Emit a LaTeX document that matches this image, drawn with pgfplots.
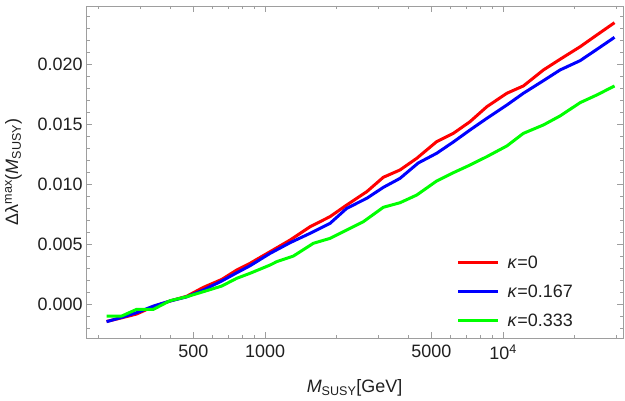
\documentclass[border=0pt]{standalone}
\usepackage{fontspec}
\setmainfont{Liberation Sans}
\usepackage{pgfplots}
\pgfplotsset{compat=1.18}
\definecolor{framegray}{gray}{0.62}
\definecolor{labelgray}{gray}{0.12}
\definecolor{mred}{rgb}{1,0,0}
\definecolor{mblue}{rgb}{0,0,1}
\definecolor{mgreen}{rgb}{0,1,0}
\newcommand{\chartfont}{\fontsize{18}{21}\selectfont}

\begin{document}
\begin{tikzpicture}[x=1bp,y=1bp]
\useasboundingbox (0,0) rectangle (625,400);
\begin{axis}[
  at={(86bp,62bp)}, anchor=south west,
  scale only axis, width=537bp, height=332bp,
  xmode=log, xmin=177, xmax=31900,
  ymin=-0.00283, ymax=0.02483,
  axis line style={framegray, line width=0.8bp},
  tick align=inside,
  xtick pos=both, ytick pos=both,
  xticklabel pos=lower, yticklabel pos=left,
  major tick length=6bp, minor tick length=3.5bp,
  every tick/.style={framegray, line width=0.6bp},
  xtick={500,1000,5000,10000},
  xticklabels={500,1000,5000,10\textsuperscript{4}},
  minor xtick={200,300,400,600,700,800,900,2000,3000,4000,6000,7000,8000,9000,20000,30000},
  ytick={0,0.005,0.010,0.015,0.020},
  minor ytick={-0.002,-0.001,0.001,0.002,0.003,0.004,0.006,0.007,0.008,0.009,0.011,0.012,0.013,0.014,0.016,0.017,0.018,0.019,0.021,0.022,0.023,0.024},
  scaled y ticks=false,
  yticklabel style={/pgf/number format/.cd, fixed, fixed zerofill, precision=3, assume math mode=true},
  ticklabel style={font=\chartfont, text=labelgray},
  xticklabel style={yshift=-3bp},
  xlabel={\textit{M}\textsubscript{SUSY}[GeV]},
  ylabel={Δλ\textsuperscript{max}(\textit{M}\textsubscript{SUSY})},
  every axis x label/.style={at={(axis description cs:0.5,-0.15)}, anchor=center,
    font=\chartfont, text=labelgray},
  every axis y label/.style={at={(axis description cs:-0.135,0.5)}, rotate=90, anchor=center,
    font=\chartfont, text=labelgray},
  legend style={draw=none, fill=none, at={(0.684,0.261)}, anchor=north west,
    font=\chartfont, text=labelgray, row sep=11bp,
    nodes={inner xsep=8bp}},
  legend cell align=left,
  legend image code/.code={\draw[#1, line width=3.2bp] (0bp,0bp) -- (40bp,0bp);},
  every axis plot/.append style={line width=3bp, line join=round},
]
% kappa = 0
\addplot[mred] coordinates {
(216,-0.00145) (250,-0.00115) (289,-0.00083) (340,-0.00020) (399,0.00025)
(469,0.00065) (551,0.00139) (658,0.00205) (760,0.00283) (865,0.00339)
(923,0.00372) (1050,0.00436) (1274,0.00533) (1546,0.00644) (1875,0.00728)
(2203,0.00825) (2675,0.00936) (3140,0.01056) (3690,0.01117) (4337,0.01214)
(5260,0.01353) (6180,0.01422) (7260,0.01519) (8545,0.01644) (10370,0.01756)
(12170,0.01817) (14770,0.01950) (17350,0.02039) (21080,0.02144) (24780,0.02242)
(29380,0.02344)
};
\addlegendentry{\textit{κ}=0}
% kappa = 0.167
\addplot[mblue] coordinates {
(216,-0.00147) (250,-0.00111) (289,-0.00072) (340,-0.00017) (399,0.00025)
(469,0.00060) (551,0.00117) (658,0.00192) (760,0.00260) (865,0.00319)
(1050,0.00422) (1274,0.00511) (1546,0.00589) (1875,0.00672) (2203,0.00797)
(2675,0.00881) (3140,0.00972) (3690,0.01047) (4400,0.01175) (5260,0.01256)
(6180,0.01350) (7260,0.01450) (8545,0.01547) (10370,0.01658) (12170,0.01756)
(14770,0.01861) (17350,0.01950) (21080,0.02028) (24780,0.02122) (29380,0.02222)
};
\addlegendentry{\textit{κ}=0.167}
% kappa = 0.333
\addplot[mgreen] coordinates {
(216,-0.00100) (250,-0.00100) (289,-0.00044) (340,-0.00044) (399,0.00028)
(469,0.00061) (551,0.00103) (658,0.00150) (760,0.00214) (865,0.00256)
(1050,0.00325) (1120,0.00353) (1316,0.00400) (1596,0.00506) (1875,0.00547)
(2203,0.00617) (2588,0.00686) (3140,0.00806) (3690,0.00844) (4337,0.00908)
(5260,0.01025) (6180,0.01094) (7260,0.01158) (8545,0.01228) (10370,0.01317)
(12170,0.01422) (14770,0.01492) (17350,0.01567) (21080,0.01678) (24780,0.01742)
(29380,0.01817)
};
\addlegendentry{\textit{κ}=0.333}
\end{axis}
\end{tikzpicture}
\end{document}
